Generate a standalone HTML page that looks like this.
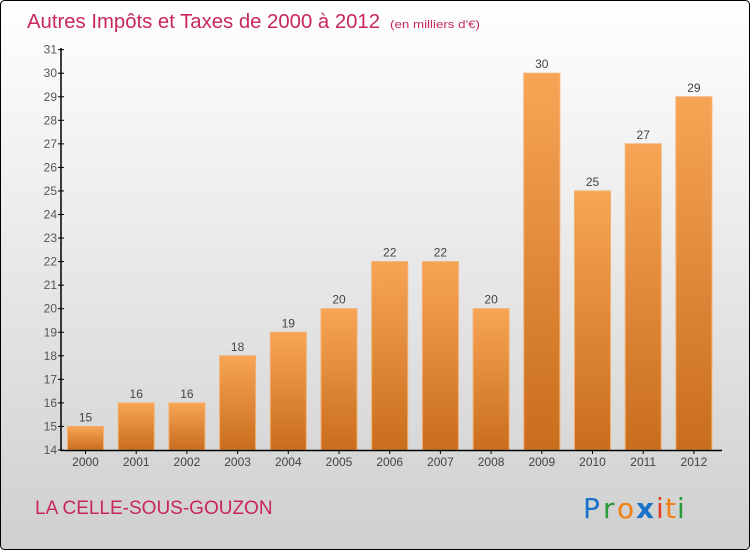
<!DOCTYPE html>
<html><head><meta charset="utf-8"><style>
html,body{margin:0;padding:0;}
body{width:750px;height:550px;overflow:hidden;font-family:"Liberation Sans",sans-serif;}
</style></head><body>
<svg width="750" height="550" viewBox="0 0 750 550" xmlns="http://www.w3.org/2000/svg" font-family="Liberation Sans, sans-serif">
<defs>
<linearGradient id="bg" x1="0" y1="0" x2="0" y2="1"><stop offset="0" stop-color="#ffffff"/><stop offset="1" stop-color="#cfcfcf"/></linearGradient>
<linearGradient id="bar" x1="0" y1="0" x2="0" y2="1"><stop offset="0" stop-color="#f7a555"/><stop offset="1" stop-color="#c96d1e"/></linearGradient>
</defs>
<rect x="0.5" y="0.5" width="749" height="549" rx="4" fill="url(#bg)" stroke="#000"/>
<text x="27" y="28" font-size="20" fill="#c8275a" textLength="353" lengthAdjust="spacingAndGlyphs">Autres Impôts et Taxes de 2000 à 2012</text>
<text x="390" y="28" font-size="11" fill="#c8275a" textLength="90" lengthAdjust="spacingAndGlyphs">(en milliers d'€)</text>
<g id="bars"></g>
<line x1="61" y1="48" x2="61" y2="451" stroke="#000" stroke-width="1.5"/>
<line x1="61" y1="450.5" x2="722" y2="450.5" stroke="#000" stroke-width="1.5"/>
<g id="yt" font-size="12" fill="#555" text-anchor="end"></g>
<g id="xt" font-size="12" fill="#444" text-anchor="middle"></g>
<text x="35" y="514" font-size="19" fill="#c8275a">LA CELLE-SOUS-GOUZON</text>
<g font-size="28" font-family="DejaVu Sans, sans-serif">
<text x="583" y="518" fill="#1a73c8">P</text><text x="603" y="518" fill="#2a9a3a">r</text><text x="617" y="518" fill="#f08010">o</text><text x="636" y="518" fill="#1a73c8" font-weight="bold">x</text><text x="656" y="518" fill="#e04020">i</text><text x="665" y="518" fill="#f08010">t</text><text x="677" y="518" fill="#2a9a3a">i</text>
</g>
</svg>
<script>
var v=[15,16,16,18,19,20,22,22,20,30,25,27,29];
var ns="http://www.w3.org/2000/svg";
function y(val){return 450-(val-14)*23.55;}
var b=document.getElementById("bars"),xt=document.getElementById("xt"),yt=document.getElementById("yt");
v.forEach(function(d,i){
 var cx=85.5+i*50.7;
 var r=document.createElementNS(ns,"rect");
 r.setAttribute("x",cx-18);r.setAttribute("y",y(d));r.setAttribute("width",36);r.setAttribute("height",450-y(d));
 r.setAttribute("fill","url(#bar)");r.setAttribute("stroke","#f3b070");r.setAttribute("stroke-width","1");b.appendChild(r);
 var t=document.createElementNS(ns,"text");t.setAttribute("x",cx);t.setAttribute("y",y(d)-5);t.setAttribute("font-size","12");t.setAttribute("fill","#444");t.setAttribute("text-anchor","middle");t.textContent=d;b.appendChild(t);
 var l=document.createElementNS(ns,"text");l.setAttribute("x",cx);l.setAttribute("y",466);l.textContent=2000+i;xt.appendChild(l);
 var tk=document.createElementNS(ns,"line");tk.setAttribute("x1",cx);tk.setAttribute("x2",cx);tk.setAttribute("y1",450);tk.setAttribute("y2",454);tk.setAttribute("stroke","#000");xt.appendChild(tk);
});
for(var k=14;k<=31;k++){
 var t=document.createElementNS(ns,"text");t.setAttribute("x",57);t.setAttribute("y",y(k)+4);t.setAttribute("font-size","12");t.textContent=k;yt.appendChild(t);
 var tk=document.createElementNS(ns,"line");tk.setAttribute("x1",58);tk.setAttribute("x2",64);tk.setAttribute("y1",y(k));tk.setAttribute("y2",y(k));tk.setAttribute("stroke","#000");yt.appendChild(tk);
}
</script>
</body></html>
